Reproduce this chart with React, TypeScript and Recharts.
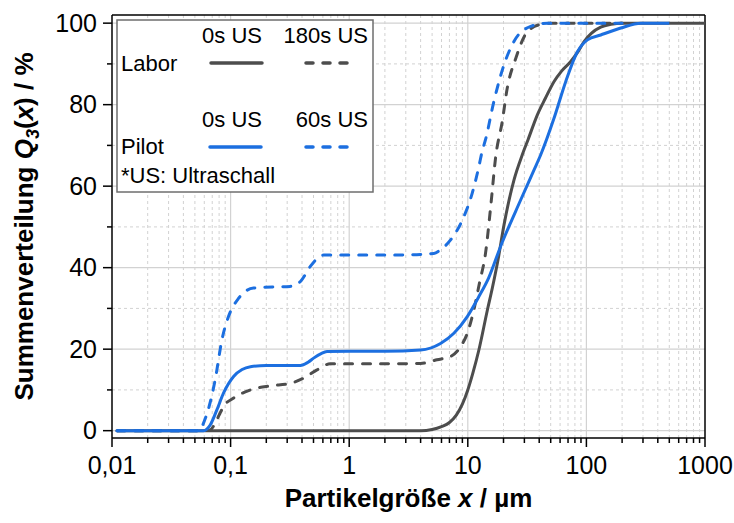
import React from "react";
import { LineChart, Line, XAxis, YAxis, ReferenceLine, Label } from "recharts";

const FONT = "'Liberation Sans', Arial, sans-serif";
const DARK = "#4d4d4d";
const BLUE = "#1c6fe0";
const GRID = "#d2d2d2";

// axis ticks
const X_MAJOR = [0.01, 0.1, 1, 10, 100, 1000];
const X_LABELS = ["0,01", "0,1", "1", "10", "100", "1000"];
const X_MINOR_STEPS = [2, 3, 4, 5, 6, 7, 8, 9];
const Y_MAJOR = [0, 20, 40, 60, 80, 100];
const Y_MINOR = [10, 30, 50, 70, 90];

// Labor, 0s US
const LABOR_0_X = [0.011, 0.1, 1, 4, 5, 6, 7, 8, 9, 10, 11, 12.4, 14.6, 16.1, 18, 20.2, 24.5, 28.8, 32.2, 38.6, 45, 53.4, 62, 73.8, 85, 95.6, 110, 132, 161, 200, 1000];
const LABOR_0_Y = [0, 0, 0, 0, 0.3, 1.0, 2.0, 3.8, 6.5, 10, 14, 19.8, 29.5, 35, 42, 50.5, 61.5, 67.7, 71.4, 77.5, 81.5, 85.7, 88.3, 90.6, 93, 95.5, 97.5, 99, 99.7, 100, 100];

// Labor, 180s US
const LABOR_180_X = [0.011, 0.06, 0.0673, 0.074, 0.08, 0.087, 0.106, 0.147, 0.216, 0.318, 0.413, 0.535, 0.69, 1, 2, 4, 5.5, 7.16, 8.69, 9.9, 10.9, 12.6, 14.1, 15.6, 17.2, 19.5, 21.5, 25.4, 31.8, 41.2, 50, 200];
const LABOR_180_Y = [0, 0, 0.2, 1.8, 3.8, 5.9, 8, 10, 11, 11.6, 12.9, 14.9, 16.4, 16.4, 16.4, 16.5, 17.4, 18.2, 20.6, 23.9, 28, 36.5, 43.5, 55, 67.3, 75.8, 84, 91.4, 97.9, 99.7, 100, 100];

// Pilot, 0s US
const PILOT_0_X = [0.011, 0.059, 0.0673, 0.0766, 0.0871, 0.106, 0.125, 0.147, 0.2, 0.388, 0.45, 0.501, 0.58, 0.65, 1, 2, 4, 5.89, 7.63, 9.9, 12.4, 15, 18.9, 27.9, 36.2, 41.2, 53.4, 67, 84, 102, 132, 195, 288, 500];
const PILOT_0_Y = [0, 0, 1.4, 5.1, 9.2, 13.3, 15, 15.7, 16, 16, 16.8, 17.8, 18.9, 19.4, 19.5, 19.5, 19.8, 21.4, 23.9, 28, 32.9, 37.5, 45.2, 56.6, 64, 67.7, 76.7, 85.7, 93, 95.9, 97.1, 98.8, 100, 100];

// Pilot, 60s US
const PILOT_60_X = [0.011, 0.055, 0.059, 0.066, 0.074, 0.0845, 0.096, 0.117, 0.156, 0.25, 0.318, 0.388, 0.47, 0.55, 0.61, 1, 2.7, 5.17, 5.89, 7.16, 9, 10.9, 12.4, 13.2, 14.1, 16.6, 20.2, 24.5, 33.9, 46.9, 200];
const PILOT_60_Y = [0, 0, 1.8, 6, 12.4, 22.3, 28, 32.5, 35, 35.3, 35.4, 36.6, 40.3, 42.5, 43.1, 43.1, 43.1, 43.5, 44.4, 46.8, 51.7, 58.3, 64.8, 68.5, 71.4, 80.8, 89.8, 95.5, 99.2, 100, 100];

const toPoints = (xs: number[], ys: number[]) => xs.map((x, i) => ({ x, y: ys[i] }));

const xMinor = X_MAJOR.slice(0, -1).flatMap((d) => X_MINOR_STEPS.map((s) => +(d * s).toPrecision(3)));
const xTicks = [...X_MAJOR, ...xMinor].sort((a, b) => a - b);
const yTicks = [...Y_MAJOR, ...Y_MINOR].sort((a, b) => a - b);

function XTick(props: any) {
  const { x, y, payload } = props;
  const i = X_MAJOR.indexOf(payload.value);
  const major = i >= 0;
  return (
    <g>
      <line x1={x} x2={x} y1={y} y2={y + (major ? 9 : 5)} stroke="#000" strokeWidth={1.5} />
      {major && (
        <text x={x} y={y + 36} textAnchor="middle" fontSize={25} fontFamily={FONT} fill="#000">
          {X_LABELS[i]}
        </text>
      )}
    </g>
  );
}

function YTick(props: any) {
  const { x, y, payload } = props;
  const major = Y_MAJOR.includes(payload.value);
  return (
    <g>
      <line x1={x - (major ? 9 : 5)} x2={x} y1={y} y2={y} stroke="#000" strokeWidth={1.5} />
      {major && (
        <text x={x - 15} y={y + 8.5} textAnchor="end" fontSize={25} fontFamily={FONT} fill="#000">
          {payload.value}
        </text>
      )}
    </g>
  );
}

function LegendBox() {
  const txt = { fontFamily: FONT, fontSize: 22, fill: "#000" };
  return (
    <svg width={734} height={523} style={{ position: "absolute", left: 0, top: 0, pointerEvents: "none" }}>
      <rect x={117} y={20} width={256} height={172} fill="#fff" stroke="#6e6e6e" strokeWidth={1.5} />
      <text x={262} y={43} textAnchor="end" {...txt}>0s US</text>
      <text x={368} y={43} textAnchor="end" {...txt}>180s US</text>
      <text x={121} y={71} {...txt}>Labor</text>
      <line x1={211} x2={262} y1={63} y2={63} stroke={DARK} strokeWidth={3.5} strokeLinecap="round" />
      <line x1={306} x2={350} y1={63} y2={63} stroke={DARK} strokeWidth={3.5} strokeLinecap="round" strokeDasharray="7 10" />
      <text x={262} y={127} textAnchor="end" {...txt}>0s US</text>
      <text x={368} y={127} textAnchor="end" {...txt}>60s US</text>
      <text x={121} y={154} {...txt}>Pilot</text>
      <line x1={210} x2={261} y1={147} y2={147} stroke={BLUE} strokeWidth={3.5} strokeLinecap="round" />
      <line x1={306} x2={350} y1={147} y2={147} stroke={BLUE} strokeWidth={3.5} strokeLinecap="round" strokeDasharray="7 10" />
      <text x={121} y={183} {...txt}>*US: Ultraschall</text>
    </svg>
  );
}

export default function App() {
  return (
    <div style={{ position: "absolute", left: 0, top: 0, width: 734, height: 523, background: "#fff" }}>
      <LineChart width={734} height={523} margin={{ top: 15, right: 29, bottom: 0, left: 0 }}>
        <XAxis
          dataKey="x"
          type="number"
          scale="log"
          domain={[0.01, 1000]}
          ticks={xTicks}
          interval={0}
          allowDataOverflow
          height={85}
          tickSize={0}
          tickMargin={0}
          tickLine={false}
          tick={<XTick />}
          axisLine={{ stroke: "#000", strokeWidth: 1.5 }}
        >
          <Label
            content={(p: any) => {
              const vb = p.viewBox;
              return (
                <text x={vb.x + vb.width / 2} y={vb.y + 69} textAnchor="middle" fontSize={26} fontWeight="bold" fontFamily={FONT} fill="#000">
                  Partikelgröße <tspan fontStyle="italic">x</tspan> / µm
                </text>
              );
            }}
          />
        </XAxis>
        <YAxis
          type="number"
          domain={[-1.8, 102]}
          ticks={yTicks}
          interval={0}
          allowDataOverflow
          width={112}
          tickSize={0}
          tickMargin={0}
          tickLine={false}
          tick={<YTick />}
          axisLine={{ stroke: "#000", strokeWidth: 1.5 }}
        >
          <Label
            content={(p: any) => {
              const vb = p.viewBox;
              const cx = 33;
              const cy = vb.y + vb.height / 2;
              return (
                <text x={cx} y={cy} transform={`rotate(-90 ${cx} ${cy})`} textAnchor="middle" fontSize={26} fontWeight="bold" fontFamily={FONT} fill="#000">
                  Summenverteilung <tspan fontStyle="italic">Q</tspan>
                  <tspan fontStyle="italic" fontSize={18} dy={6}>3</tspan>
                  <tspan dy={-6}>(</tspan>
                  <tspan fontStyle="italic">x</tspan>) / %
                </text>
              );
            }}
          />
        </YAxis>

        {xMinor.map((v) => (
          <ReferenceLine key={`xm${v}`} x={v} stroke={GRID} strokeDasharray="3 3" />
        ))}
        {Y_MINOR.map((v) => (
          <ReferenceLine key={`ym${v}`} y={v} stroke={GRID} strokeDasharray="3 3" />
        ))}
        {X_MAJOR.slice(1, -1).map((v) => (
          <ReferenceLine key={`xM${v}`} x={v} stroke={GRID} strokeWidth={1.2} />
        ))}
        {Y_MAJOR.map((v) => (
          <ReferenceLine key={`yM${v}`} y={v} stroke={GRID} strokeWidth={1.2} />
        ))}
        <ReferenceLine x={1000} stroke="#000" strokeWidth={1.5} />
        <ReferenceLine y={102} stroke="#000" strokeWidth={1.5} />

        <Line data={toPoints(LABOR_0_X, LABOR_0_Y)} dataKey="y" type="monotoneX" stroke={DARK} strokeWidth={3} dot={false} isAnimationActive={false} />
        <Line data={toPoints(LABOR_180_X, LABOR_180_Y)} dataKey="y" type="monotoneX" stroke={DARK} strokeWidth={3} strokeDasharray="8 10" strokeLinecap="round" dot={false} isAnimationActive={false} />
        <Line data={toPoints(PILOT_0_X, PILOT_0_Y)} dataKey="y" type="monotoneX" stroke={BLUE} strokeWidth={3} dot={false} isAnimationActive={false} />
        <Line data={toPoints(PILOT_60_X, PILOT_60_Y)} dataKey="y" type="monotoneX" stroke={BLUE} strokeWidth={3} strokeDasharray="8 10" strokeLinecap="round" dot={false} isAnimationActive={false} />
      </LineChart>
      <LegendBox />
    </div>
  );
}
